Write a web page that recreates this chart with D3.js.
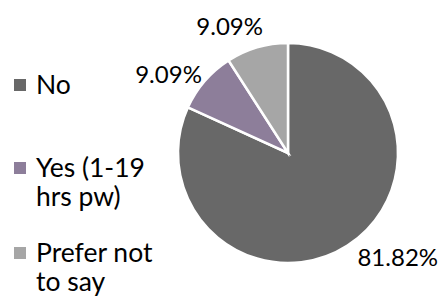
<!DOCTYPE html>
<meta charset="utf-8">
<style>
body { margin: 0; background: #fff; }
text { font-family: "Lato", "Open Sans", sans-serif; fill: #000; }
</style>
<body>
<svg id="chart"></svg>
<script src="https://d3js.org/d3.v7.min.js"></script>
<script>
// data
var categories = ["No", "Yes (1-19 hrs pw)", "Prefer not to say"];
var values = [81.82, 9.09, 9.09];
var valueLabels = ["81.82%", "9.09%", "9.09%"];
var legendLines = [["No"], ["Yes (1-19", "hrs pw)"], ["Prefer not", "to say"]];
var colors = ["#686868", "#8d7e9a", "#a6a6a6"];

var width = 445, height = 300;
var cx = 288, cy = 153, radius = 110;
var fontSize = 24, capH = 17.5, legendSize = 26.5;

var svg = d3.select("#chart")
    .attr("width", width)
    .attr("height", height);

var color = d3.scaleOrdinal().domain(categories).range(colors);

var pie = d3.pie().sort(null).value(function(d) { return d.value; });
var arcs = pie(categories.map(function(c, i) { return {name: c, value: values[i], label: valueLabels[i]}; }));

var arc = d3.arc().innerRadius(0).outerRadius(radius);
var edge = d3.arc().innerRadius(radius).outerRadius(radius);

var g = svg.append("g").attr("transform", "translate(" + cx + "," + cy + ")");

g.selectAll("path")
    .data(arcs)
  .enter().append("path")
    .attr("d", arc)
    .style("fill", function(d) { return color(d.data.name); })
    .style("stroke", "#fff")
    .style("stroke-width", 2.5)
    .style("stroke-linejoin", "miter");

// labels placed outside the slice edge, anchored by corner (like "best fit")
var nudge = [[10, 2.5], [-3, 2], [6, -12.5]];
g.selectAll(".lbl")
    .data(arcs)
  .enter().append("text")
    .attr("class", "lbl")
    .style("font-size", fontSize + "px")
    .attr("text-anchor", function(d) { return edge.centroid(d)[0] < 0 ? "end" : "start"; })
    .attr("x", function(d, i) { return edge.centroid(d)[0] + nudge[i][0]; })
    .attr("y", function(d, i) {
      var p = edge.centroid(d);
      return p[1] + nudge[i][1] + (p[1] > 0 ? capH : 0);
    })
    .text(function(d) { return d.data.label; });

// legend
var rowTop = [94, 177, 262];
var legend = svg.selectAll(".legend")
    .data(categories)
  .enter().append("g")
    .attr("class", "legend")
    .attr("transform", function(d, i) { return "translate(0," + rowTop[i] + ")"; });

legend.append("rect")
    .attr("x", 14)
    .attr("y", -15)
    .attr("width", 12)
    .attr("height", 12)
    .style("fill", function(d) { return color(d); });

legend.append("text")
    .attr("x", 36)
    .style("font-size", legendSize + "px")
    .selectAll("tspan")
    .data(function(d, i) { return legendLines[i]; })
  .enter().append("tspan")
    .attr("x", 36)
    .attr("dy", function(d, j) { return j ? 29 : 0; })
    .text(function(d) { return d; });
</script>
</body>
